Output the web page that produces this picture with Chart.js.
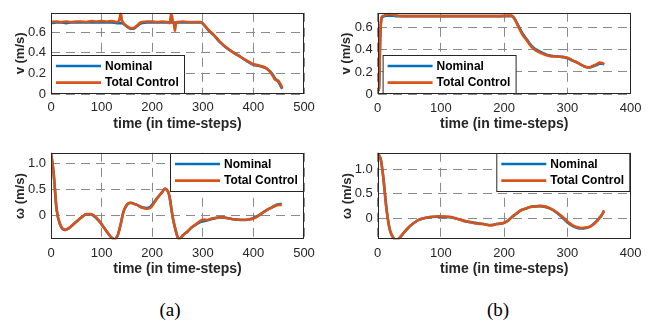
<!DOCTYPE html>
<html>
<head>
<meta charset="utf-8">
<script src="https://cdn.jsdelivr.net/npm/chart.js@4.4.1/dist/chart.umd.min.js"></script>
<style>
body{margin:0;background:#fff;width:657px;height:326px;position:relative;overflow:hidden;}
canvas{position:absolute;}
.cap{position:absolute;top:299px;width:60px;text-align:center;font-family:"Liberation Serif","Times New Roman",serif;font-size:19px;color:#000;line-height:22px;}
</style>
</head>
<body>
<canvas id="vA" width="330" height="140" style="left:0;top:0"></canvas>
<canvas id="vB" width="327" height="140" style="left:330px;top:0"></canvas>
<canvas id="wA" width="330" height="145" style="left:0;top:140px"></canvas>
<canvas id="wB" width="327" height="145" style="left:330px;top:140px"></canvas>
<div class="cap" style="left:140px">(a)</div>
<div class="cap" style="left:468px">(b)</div>
<script>
const legendLabels = ["Nominal", "Total Control"];
const xTitle = "time (in time-steps)";

// (a) linear velocity
const timeA_v = [0,10,20,30,40,50,60,70,80,90,100,110,120,130,135,138,140,142,145,150,155,160,165,170,175,180,190,200,210,220,230,235,237,239,241,243,245,247,250,260,270,280,290,296,305,311,321,330,337,345,360,375,387,400,410,420,427,433,438,443,449,453,457];
const nominalA_v = [0.69,0.695,0.695,0.69,0.695,0.695,0.695,0.695,0.695,0.695,0.695,0.695,0.695,0.69,0.69,0.69,0.688,0.685,0.675,0.655,0.64,0.635,0.64,0.66,0.68,0.69,0.695,0.695,0.695,0.695,0.695,0.695,0.695,0.695,0.695,0.695,0.695,0.695,0.695,0.695,0.695,0.695,0.695,0.695,0.655,0.62,0.575,0.525,0.49,0.455,0.405,0.36,0.32,0.285,0.275,0.26,0.245,0.22,0.19,0.15,0.12,0.085,0.05];
const totalA_v = [0.70,0.705,0.70,0.705,0.70,0.705,0.705,0.70,0.71,0.705,0.71,0.705,0.71,0.70,0.72,0.79,0.72,0.70,0.68,0.66,0.645,0.64,0.645,0.665,0.69,0.70,0.705,0.705,0.70,0.705,0.70,0.69,0.775,0.76,0.70,0.68,0.615,0.69,0.70,0.705,0.70,0.70,0.70,0.70,0.66,0.625,0.58,0.53,0.495,0.46,0.405,0.36,0.325,0.29,0.28,0.265,0.245,0.215,0.18,0.14,0.13,0.10,0.06];

// (b) linear velocity
const timeB_v = [0,2,4,6,8,10,14,19,25,30,40,50,70,90,110,130,150,170,190,205,212,216,220,225,230,236,241,246,251,259,267,275,283,291,299,305,309,317,325,333,338,343,347,351,355,358];
const nominalB_v = [0.03,0.05,0.5,0.68,0.695,0.70,0.705,0.705,0.705,0.70,0.70,0.70,0.70,0.70,0.70,0.70,0.70,0.70,0.70,0.70,0.70,0.68,0.64,0.585,0.535,0.49,0.45,0.42,0.40,0.375,0.355,0.345,0.34,0.335,0.325,0.31,0.30,0.28,0.255,0.24,0.245,0.255,0.265,0.275,0.275,0.265];
const totalB_v = [0.03,0.05,0.52,0.685,0.70,0.705,0.715,0.72,0.715,0.705,0.70,0.70,0.70,0.70,0.70,0.70,0.70,0.70,0.70,0.705,0.705,0.68,0.635,0.575,0.525,0.48,0.44,0.41,0.39,0.368,0.35,0.34,0.338,0.335,0.33,0.315,0.30,0.28,0.255,0.24,0.248,0.262,0.272,0.285,0.28,0.27];

// (a) angular velocity
const timeA_w = [0,5,11,18,28,36,44,54,64,70,77,84,90,97,105,113,120,126,130,133,138,143,148,153,158,163,170,176,182,189,196,202,208,215,220,225,228,232,235,238,241,245,249,252,256,261,270,278,288,298,304,308,318,327,335,340,350,357,367,377,390,400,410,420,428,436,443,449,456];
const nominalA_w = [1.21,0.84,0.13,-0.165,-0.27,-0.23,-0.165,-0.08,0.0,0.03,0.03,0.0,-0.05,-0.12,-0.23,-0.34,-0.42,-0.45,-0.41,-0.34,-0.15,0.07,0.18,0.24,0.25,0.235,0.21,0.18,0.16,0.15,0.17,0.24,0.32,0.40,0.46,0.52,0.51,0.45,0.33,0.13,-0.05,-0.225,-0.37,-0.44,-0.43,-0.37,-0.30,-0.225,-0.16,-0.11,-0.10,-0.09,-0.06,-0.04,-0.03,-0.03,-0.045,-0.06,-0.07,-0.08,-0.07,-0.04,0.01,0.07,0.12,0.16,0.20,0.22,0.23];
const totalA_w = [1.21,0.84,0.13,-0.165,-0.27,-0.23,-0.165,-0.08,0.0,0.035,0.035,0.015,-0.04,-0.12,-0.23,-0.34,-0.42,-0.45,-0.41,-0.34,-0.15,0.07,0.18,0.24,0.25,0.235,0.21,0.175,0.15,0.135,0.15,0.22,0.31,0.40,0.46,0.52,0.51,0.45,0.33,0.13,-0.05,-0.225,-0.37,-0.44,-0.43,-0.37,-0.30,-0.22,-0.15,-0.08,-0.07,-0.08,-0.05,-0.035,-0.03,-0.035,-0.045,-0.06,-0.07,-0.075,-0.07,-0.05,0.0,0.07,0.12,0.16,0.19,0.21,0.21];

// (b) angular velocity
const timeB_w = [0,2,5,9,14,19,23,27,31,35,41,48,56,64,73,83,98,114,125,135,146,156,167,178,188,199,206,212,219,225,233,241,249,257,265,272,282,293,301,309,316,322,329,336,341,346,350,354,358];
const nominalB_w = [1.33,1.28,1.19,0.81,0.18,-0.226,-0.36,-0.43,-0.44,-0.40,-0.30,-0.20,-0.11,-0.04,0.0,0.025,0.03,0.02,-0.01,-0.05,-0.08,-0.10,-0.12,-0.14,-0.12,-0.10,-0.05,0.02,0.09,0.15,0.19,0.225,0.24,0.245,0.23,0.20,0.12,0.0,-0.10,-0.165,-0.20,-0.21,-0.20,-0.17,-0.12,-0.06,0.0,0.06,0.14];
const totalB_w = [1.33,1.28,1.19,0.81,0.18,-0.226,-0.36,-0.43,-0.43,-0.39,-0.30,-0.20,-0.11,-0.04,0.0,0.025,0.04,0.03,-0.01,-0.05,-0.08,-0.11,-0.12,-0.15,-0.12,-0.10,-0.05,0.02,0.09,0.15,0.19,0.225,0.24,0.25,0.235,0.205,0.13,0.02,-0.08,-0.15,-0.185,-0.20,-0.19,-0.17,-0.13,-0.07,-0.01,0.06,0.16];

const xTicksA = [0,100,200,300,400,500];
const xTicksB = [0,100,200,300,400];
const yTicksV = [0,0.2,0.4,0.6];
const yTicksW = [0,0.5,1];

const COLOR_NOM = "#0072BD";
const COLOR_TOT = "#D95319";
const AXIS_COLOR = "#262626";
const GRID_COLOR = "#8a8a8a";
const FONT = "'Liberation Sans', Arial, Helvetica, sans-serif";

function points(t, y){
  return t.map(function(x, i){ return {x: x, y: y[i]}; });
}

// axes box + legend drawn inside the plot area
const frame = {
  id: "frame",
  afterDraw(chart, args, opts){
    const ctx = chart.ctx, a = chart.chartArea;
    ctx.save();
    ctx.strokeStyle = AXIS_COLOR;
    ctx.lineWidth = 1;
    const l = Math.round(a.left) + 0.5, t = Math.round(a.top) + 0.5;
    const r = Math.round(a.right) - 0.5, b = Math.round(a.bottom) - 0.5;
    ctx.strokeRect(l, t, r - l, b - t);

    const w = 133, h = 38;
    const x = opts.corner === "sw" ? l + opts.dx : r - w - opts.dx;
    const y = opts.corner === "sw" ? b - h : t;
    ctx.fillStyle = "#fff";
    ctx.fillRect(x, y, w, h);
    ctx.strokeRect(x, y, w, h);
    const colors = [COLOR_NOM, COLOR_TOT];
    ctx.font = "bold 12px " + FONT;
    ctx.textBaseline = "middle";
    ctx.textAlign = "left";
    for (let i = 0; i < 2; i++){
      const ry = y + 10.5 + i * 16.6;
      ctx.strokeStyle = colors[i];
      ctx.lineWidth = 2.6;
      ctx.beginPath();
      ctx.moveTo(x + 4.5, ry);
      ctx.lineTo(x + 49.5, ry);
      ctx.stroke();
      ctx.fillStyle = "#000";
      ctx.fillText(legendLabels[i], x + 53.5, ry + 0.5);
    }
    ctx.restore();
  }
};

function makeChart(id, t, nom, tot, xTicks, yTicks, yMin, yMax, yTitle, lay){
  return new Chart(document.getElementById(id), {
    type: "line",
    data: {
      datasets: [{
        label: legendLabels[1],
        data: points(t, tot),
        borderColor: COLOR_TOT,
        borderWidth: 2.6,
        pointRadius: 0,
        cubicInterpolationMode: "monotone",
        order: 0
      }, {
        label: legendLabels[0],
        data: points(t, nom),
        borderColor: COLOR_NOM,
        borderWidth: 2.6,
        pointRadius: 0,
        cubicInterpolationMode: "monotone",
        order: 1
      }]
    },
    options: {
      responsive: false,
      animation: false,
      layout: {padding: {left: 0, top: lay.top, right: lay.right, bottom: 0}},
      plugins: {
        legend: {display: false},
        tooltip: {enabled: false},
        frame: {corner: lay.corner, dx: lay.dx}
      },
      scales: {
        x: {
          type: "linear",
          min: xTicks[0],
          max: xTicks[xTicks.length - 1],
          afterBuildTicks: function(s){ s.ticks = xTicks.map(function(v){ return {value: v}; }); },
          afterFit: function(s){ s.height = lay.xh; },
          grid: {color: GRID_COLOR, drawTicks: false},
          border: {display: false, dash: [9, 6]},
          ticks: {color: AXIS_COLOR, font: {family: FONT, size: 13}, padding: 6, maxRotation: 0, autoSkip: false},
          title: {display: true, text: xTitle, color: AXIS_COLOR, font: {family: FONT, size: 14, weight: "bold"}, padding: {top: 0, bottom: 7.2}}
        },
        y: {
          type: "linear",
          min: yMin,
          max: yMax,
          afterBuildTicks: function(s){ s.ticks = yTicks.map(function(v){ return {value: v}; }); },
          afterFit: function(s){ s.width = lay.yw; },
          grid: {color: GRID_COLOR, drawTicks: false},
          border: {display: false, dash: [9, 6]},
          ticks: {color: AXIS_COLOR, font: {family: FONT, size: 13}, padding: 5, autoSkip: false},
          title: {display: true, text: yTitle, color: AXIS_COLOR, font: {family: FONT, size: 13, weight: "bold"}, padding: {top: lay.yt, bottom: 0}}
        }
      }
    },
    plugins: [frame]
  });
}

document.addEventListener("DOMContentLoaded", function(){

makeChart("vA", timeA_v, nominalA_v, totalA_v, xTicksA, yTicksV, 0, 0.79, "v (m/s)",
  {top: 1, right: 26, yw: 51, xh: 46, yt: 12.2, corner: "sw", dx: 0});

makeChart("vB", timeB_v, nominalB_v, totalB_v, xTicksB, yTicksV, 0, 0.73, "v (m/s)",
  {top: 1.3, right: 26.3, yw: 47.7, xh: 45.7, yt: 8.2, corner: "sw", dx: 4.6});

makeChart("wA", timeA_w, nominalA_w, totalA_w, xTicksA, yTicksW, -0.45, 1.21, "\u03c9 (m/s)",
  {top: 5.7, right: 26, yw: 51, xh: 45.7, yt: 12.7, corner: "ne", dx: 0});

makeChart("wB", timeB_w, nominalB_w, totalB_w, xTicksB, yTicksW, -0.43, 1.33, "\u03c9 (m/s)",
  {top: 5.7, right: 26.3, yw: 47.7, xh: 45.7, yt: 9.7, corner: "ne", dx: 0.7});

});
</script>
</body>
</html>
